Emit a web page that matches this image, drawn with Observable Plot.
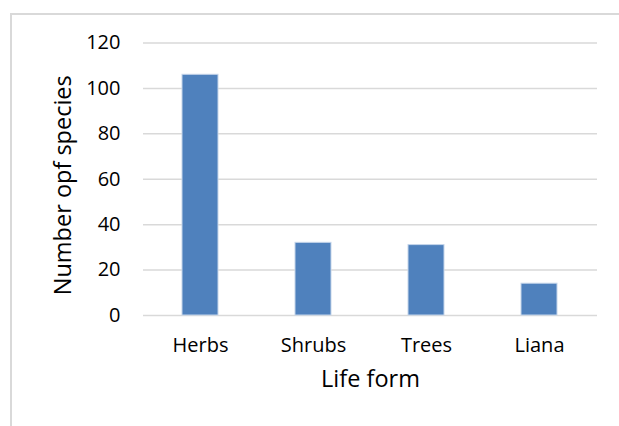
<!DOCTYPE html>
<html>
<head>
<meta charset="utf-8">
<script src="https://cdn.jsdelivr.net/npm/d3@7"></script>
<script src="https://cdn.jsdelivr.net/npm/@observablehq/plot@0.6"></script>
<style>
  html, body { margin: 0; padding: 0; background: #fff; }
  #wrap { position: relative; width: 619px; height: 426px; overflow: hidden; }
  #border { position: absolute; left: 10px; top: 13px; width: 700px; height: 500px;
            border-top: 2px solid #d9d9d9; border-left: 2px solid #d9d9d9; box-sizing: border-box; pointer-events: none; }
</style>
</head>
<body>
<div id="wrap"><div id="border"></div></div>
<script>
const categories = ["Herbs", "Shrubs", "Trees", "Liana"];
const species = [106, 32, 31, 14];
const yTicks = [0, 20, 40, 60, 80, 100, 120];

const data = categories.map((c, i) => ({form: c, n: species[i]}));

const chart = Plot.plot({
  width: 619,
  height: 426,
  marginLeft: 143,
  marginRight: 22,
  marginTop: 42.5,
  marginBottom: 111,
  style: {fontFamily: "'Open Sans', sans-serif", fontSize: "20px", color: "#000", background: "transparent"},
  x: {domain: categories, paddingInner: 0.68, paddingOuter: 0.34, label: null},
  y: {domain: [0, 120], label: null},
  marks: [
    Plot.gridY(yTicks, {stroke: "#d9d9d9", strokeOpacity: 1, strokeWidth: 1.5}),
    Plot.barY(data, {x: "form", y: "n", fill: "#4f81bd", stroke: "#c5d5ea", strokeWidth: 1}),
    Plot.axisY(yTicks, {tickSize: 0, tickPadding: 23, fontSize: 20, label: null}),
    Plot.axisX({tickSize: 0, tickPadding: 22, fontSize: 20, label: null}),
    Plot.text(["Life form"], {frameAnchor: "bottom", dy: 71, fontSize: 23.5, textAnchor: "middle"}),
    Plot.text(["Number opf species"], {frameAnchor: "left", dx: -80, dy: 6, rotate: -90, fontSize: 23.5, textAnchor: "middle"})
  ]
});
document.getElementById("wrap").prepend(chart);
</script>
</body>
</html>
